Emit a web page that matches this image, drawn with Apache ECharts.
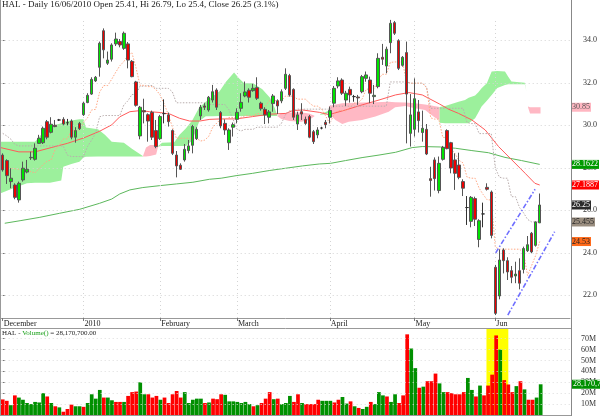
<!DOCTYPE html>
<html><head><meta charset="utf-8">
<script src="https://cdn.jsdelivr.net/npm/echarts@6/dist/echarts.min.js"></script>
<style>html,body{margin:0;padding:0;background:#fff}#c{width:600px;height:416px}</style>
</head><body><div id="c"></div>
<script>
// ---------- data ----------
const tradingDays = {
  '2009-12': [3,4,7,8,9,10,11,14,15,16,17,18,21,22,23,24,28,29,30,31],
  '2010-01': [4,5,6,7,8,11,12,13,14,15,19,20,21,22,25,26,27,28,29],
  '2010-02': [1,2,3,4,5,8,9,10,11,12,16,17,18,19,22,23,24,25,26],
  '2010-03': [1,2,3,4,5,8,9,10,11,12,15,16,17,18,19,22,23,24,25,26,29,30,31],
  '2010-04': [1,5,6,7,8,9,12,13,14,15,16,19,20,21,22,23,26,27,28,29,30],
  '2010-05': [3,4,5,6,7,10,11,12,13,14,17,18,19,20,21,24,25,26,27,28],
  '2010-06': [1,2,3,4,7,8,9,10,11,14,15,16]
};
const monthLabels = {'2009-12':'December','2010-01':'2010','2010-02':'February','2010-03':'March','2010-04':'April','2010-05':'May','2010-06':'Jun'};

const opens = [28.60,28.34,27.35,27.19,26.49,27.43,27.80,28.47,28.40,29.15,29.18,30.17,29.67,30.00,30.25,30.28,30.12,30.20,29.44,30.09,
30.50,31.07,31.47,32.09,32.73,34.45,32.92,33.11,33.83,33.94,33.62,33.83,33.01,32.04,29.50,30.69,30.50,30.61,29.75,29.37,
30.55,30.49,29.75,28.60,28.12,28.37,28.81,29.06,29.37,30.44,30.91,30.72,31.19,31.66,30.60,30.09,29.18,29.91,30.28,30.80,
31.38,31.65,31.63,31.77,31.04,30.75,30.38,31.02,31.15,31.15,31.74,32.34,31.69,30.06,30.64,30.28,30.41,29.70,29.55,29.87,
30.14,30.38,31.04,31.85,32.13,31.19,31.69,31.35,31.33,31.58,32.21,32.13,31.35,31.82,33.20,32.79,33.89,34.83,33.98,32.82,
33.42,29.62,29.81,30.63,29.66,29.81,27.49,28.37,26.93,28.40,29.75,29.18,28.37,28.13,27.35,26.13,25.48,26.55,24.63,25.83,
27.08,26.86,23.32,21.97,24.13,23.63,23.16,22.91,23.16,23.22,24.10,24.92,24.35,25.41];
const highs = [28.68,28.40,27.98,27.27,27.35,28.29,28.37,28.76,29.15,29.55,29.94,30.25,30.38,30.25,30.30,30.38,30.30,30.28,29.91,30.16,
31.10,31.51,32.26,32.32,33.94,34.56,33.47,33.86,34.36,34.06,34.41,33.92,33.07,32.09,30.91,31.25,30.56,30.69,30.25,30.49,
31.22,30.60,29.81,28.79,28.21,29.12,29.31,30.02,29.91,30.96,31.04,31.38,31.90,31.74,30.67,30.28,29.86,30.13,30.80,31.51,
32.06,31.74,31.95,32.26,31.11,30.85,30.72,31.47,31.22,31.69,32.68,32.42,31.74,30.64,31.04,30.41,30.49,29.78,29.91,29.93,
30.25,30.88,31.85,32.26,32.21,31.62,31.82,31.43,31.43,32.37,32.53,32.29,31.90,33.39,33.83,33.70,34.96,34.91,34.05,33.26,
33.94,31.47,32.21,31.19,30.69,30.06,28.05,28.49,28.53,29.03,29.81,29.22,28.68,28.71,27.46,26.67,26.67,26.64,25.58,26.36,
27.27,26.93,23.43,24.16,24.21,23.79,23.38,23.58,23.74,24.29,24.79,24.98,25.48,26.79];
const lows = [27.82,27.24,27.04,26.52,26.36,27.35,27.74,28.37,28.34,29.12,29.12,29.34,29.62,29.91,30.20,30.00,30.00,29.34,29.18,29.78,
30.44,31.04,31.43,32.04,32.29,33.15,32.84,33.00,33.73,33.67,33.55,32.68,32.26,30.88,29.34,30.09,29.23,29.31,28.92,29.31,
30.09,29.94,28.60,27.55,27.90,28.29,28.68,28.68,29.31,30.25,30.72,30.64,31.07,30.72,29.86,29.55,28.84,29.47,30.09,30.64,
31.32,31.07,31.58,31.19,30.69,30.06,30.09,30.64,30.53,31.04,31.66,31.35,30.25,29.78,30.25,30.02,29.39,29.12,29.39,29.81,
29.86,30.09,30.85,31.74,31.43,30.91,31.07,31.11,30.96,31.51,32.05,31.04,31.00,31.74,32.84,32.45,33.39,34.25,32.60,32.76,
29.15,29.00,29.47,29.66,29.23,28.60,26.64,26.93,26.80,28.34,28.87,27.74,26.96,27.46,26.67,25.31,25.20,25.26,24.26,25.20,
26.93,24.68,21.07,21.81,23.03,22.72,22.57,22.57,22.28,23.03,24.04,23.98,24.29,25.40];
const closes = [27.90,27.63,27.51,26.61,27.27,27.98,27.93,28.49,28.92,29.39,29.86,29.44,30.05,29.94,30.25,30.06,30.12,29.44,29.75,29.84,
31.04,31.41,32.16,32.26,33.86,33.55,33.07,33.78,34.06,33.78,34.33,33.07,32.29,30.94,30.85,30.63,30.20,29.44,29.00,30.41,
30.55,30.17,28.68,28.09,27.93,28.87,29.03,29.94,29.81,30.85,30.85,31.32,31.58,30.85,29.97,29.78,29.78,30.03,30.61,31.08,
31.57,31.32,31.74,31.27,30.78,30.49,30.63,31.38,30.91,31.58,32.40,31.43,30.38,30.49,30.53,30.09,29.44,29.23,29.78,29.87,
30.03,30.70,31.74,32.09,31.51,31.51,31.43,31.35,31.29,32.29,32.37,31.51,31.41,33.15,33.11,33.58,34.80,34.33,32.68,33.20,
31.47,30.49,31.25,30.22,29.86,28.65,27.40,27.49,28.21,28.96,28.90,27.99,27.74,27.55,27.04,26.13,26.61,25.58,25.51,25.83,
26.99,24.82,21.15,23.66,23.63,23.10,22.85,23.00,22.57,24.20,24.38,24.04,25.45,26.25];

// volume in millions, and whether each bar is drawn green (1) or red (0)
const volumeMillions = [14.3,13,9,18,16,14,11,10,12,11.5,20,17,11,8,7,3,5.5,9.5,8,8,
7.5,11,19,15,23,16,16,13.5,12,12,12,17.5,21,21.5,30,19,19,16,17.5,14,
16,11,19,22,16,21,11,14,15,15,11,11.5,15,14.5,19,18.5,12.5,12.5,12,11,
12,10,8,9,11,15,21,14.5,15,10,11,17.5,12,19,11,10,10,10,14,13,
13,13,11.5,14,16.5,10.5,12.5,8,6.5,5.5,7.5,12,10,21,18,17,12,19,11,18,
74,61,43,25,26,31,31,38,29,21,21,20,19,19,21,34,23,17,27,18,
27,37,73,60,32,28,21,26.5,31,23.5,14,14,16,28.17];
const volumeUp = [0,0,1,0,1,1,1,1,1,1, 1,0,1,0,1,0,0,0,1,1, 0,1,1,1,1,0,1,1,0,0, 1,0,0,0,1,1,0,0,0,1,
0,0,0,0,0,1,1,1,1,1, 0,1,0,0,0,1,1,1,1,1, 1,1,0,1,0,0,0,1,0,1, 1,1,0,0,1,0,0,0,0,1,
1,1,0,0,1,1,0,1,0,1, 1,0,1,1,1,0,1,1,0,0, 0,1,1,0,1,0,0,0,1,1, 0,0,0,0,0,1,1,0,1,0,
0,0,0,1,0,0,0,1,0,1, 0,0,1,1];

// conversion line (orange dotted) and base line (grey dotted), one value per bar
const tenkan = [28.0,28.0,27.98,27.95,27.93,27.9,27.86,27.82,27.76,27.96,28.15,28.31,28.37,28.87,29.06,29.36,29.36,29.75,29.75,29.78,
30.14,30.35,30.72,30.75,31.56,31.87,31.87,32.17,32.50,32.80,33.0,33.30,33.41,32.72,31.88,31.88,31.82,31.82,31.67,31.42,
31.0,30.51,29.93,29.40,29.39,29.39,29.39,29.39,29.39,29.26,29.30,29.47,29.90,30.10,30.29,30.29,30.37,30.37,30.37,30.37,
30.45,30.45,30.45,30.55,30.55,30.87,31.16,31.16,31.16,31.16,31.37,31.37,31.37,31.23,31.23,31.23,31.04,30.90,30.90,30.77,
30.43,30.08,30.49,30.69,30.69,30.69,30.83,31.04,31.06,31.23,31.69,31.72,31.72,32.15,32.40,32.40,32.96,32.98,32.98,32.98,
32.06,31.98,31.98,31.98,31.98,31.76,30.35,30.29,30.29,29.43,29.43,28.92,28.67,28.35,28.23,27.56,27.51,27.51,27.04,26.74,
26.49,26.49,24.27,24.17,24.17,24.17,24.17,24.17,24.17,24.0,22.93,23.40,23.88,24.53];
const kijun = [29.62,29.5,29.35,29.1,29.03,29.03,29.03,29.03,29.03,29.03,29.03,29.03,29.03,29.03,29.03,29.03,28.6,28.53,28.53,28.53,
28.53,29.0,29.3,29.62,30.4,30.46,30.46,30.46,30.46,30.46,30.96,31.15,31.45,31.45,31.84,31.84,31.87,31.87,31.74,31.74,
31.74,31.74,31.58,31.06,31.06,31.06,31.06,31.06,31.06,31.06,31.06,30.98,30.98,30.98,30.98,30.98,30.74,30.31,29.82,29.73,
29.81,29.81,29.81,29.91,29.91,29.91,29.91,29.91,29.91,30.08,30.49,30.68,30.68,30.76,30.76,30.76,30.76,30.76,30.76,30.76,
30.76,30.76,30.90,30.90,30.90,30.90,30.90,30.90,30.90,30.90,30.90,30.90,30.90,30.90,30.90,30.90,32.04,32.04,32.04,32.04,
32.04,31.98,31.98,31.98,31.98,31.78,30.80,30.80,30.80,30.80,30.80,30.80,30.80,30.80,30.80,30.14,30.08,30.08,29.61,29.61,
29.61,29.61,27.99,27.56,27.51,27.51,26.64,26.64,26.13,25.88,25.57,25.455,25.455,25.455];

// moving averages: [bar position, value] read at points along each line
const redAverage = [[-0.5,28.95],[4,28.75],[8,28.75],[12,28.95],[16,29.15],[20,29.4],[24,29.72],[27,30.02],[29,30.4],[31.5,30.64],
[34,30.69],[36.4,30.64],[39,30.6],[41.4,30.53],[43.8,30.33],[46.3,30.2],[48.8,30.2],[51.3,30.28],[54,30.3],[57.8,30.3],
[61.9,30.41],[66,30.52],[70.1,30.56],[71.8,30.69],[74.3,30.72],[78.4,30.61],[80.8,30.5],[84.9,30.72],[89,30.96],[93.2,31.19],
[97.3,31.43],[100.6,31.54],[103.9,31.43],[108.2,31.0],[110.5,30.75],[112.9,30.56],[116.2,30.25],[119.5,29.78],[122.8,29.0],
[126.1,28.37],[129.4,27.74],[131.8,27.27],[133,27.19]];
const greenAverage = [[0.5,25.39],[4.3,25.51],[9.2,25.67],[14.1,25.86],[19.1,26.05],[24,26.33],[27,26.53],[29,26.77],[31.5,26.96],
[34.7,27.07],[38.9,27.16],[43,27.24],[47.1,27.32],[51.2,27.46],[54.1,27.51],[57.8,27.63],[61.9,27.74],[66,27.87],[70.1,27.98],
[74.3,28.09],[78.4,28.18],[81.2,28.21],[84.9,28.34],[89,28.48],[93.2,28.60],[97.3,28.73],[101.4,28.95],[103.9,29.0],[108.4,28.98],
[112.1,28.92],[116.2,28.81],[120.3,28.71],[124.4,28.49],[128.5,28.34],[133,28.16]];

// cloud pieces: [bar position, upper edge, lower edge]
const cloudGreen1 = [[-0.5,29.23,26.8],[2.6,29.23,27.04],[6,29.23,27.27],[8,29.23,27.3],[9.5,29.55,27.3],[11.7,29.94,27.3],[14.5,30.1,27.4],
[15,30.17,28.05],[17,30.22,28.18],[19,30.28,28.29],[20,30.28,28.49],[20.6,29.9,28.52],[23.6,29.81,28.53],[25.3,29.55,28.53],
[27,29.23,28.53],[30,29.18,28.53],[32,28.9,28.53],[34.7,28.55,28.53]];
const cloudPink1 = [[34.7,28.53,28.53],[35.5,28.95,28.53],[36.5,29.07,28.56],[38,29.07,28.62],[38.5,29.03,29.0]];
const cloudGreen2 = [[38.5,29.03,29.0],[39.5,29.18,29.03],[42.5,29.2,29.03],[43.8,29.55,29.03],[45.4,29.86,29.03],[47,30.25,29.3],
[48.7,30.85,30.2],[50.3,31.11,30.42],[52,31.35,30.43],[53.7,31.6,30.44],[55.3,32.05,30.44],[57.3,32.48,30.44],[58.5,32.21,30.44],
[59.8,31.98,30.44],[62,31.98,30.44],[64.3,31.7,30.44],[66.2,31.3,30.44],[67.4,30.8,30.44],[68,30.45,30.44]];
const cloudPink2 = [[68,30.45,30.44],[69,30.56,30.3],[71,30.6,30.2],[74,30.6,30.17],[75.9,30.56,30.25],[77.2,30.45,30.43]];
const cloudGreen3 = [[78.6,30.52,30.5],[80,30.62,30.52],[80.8,30.7,30.6]];
const cloudPink3 = [[80.8,30.91,30.56],[82.4,30.98,30.25],[84.1,31.04,30.06],[85.7,31.05,30.17],[89,31.07,30.25],[92.3,31.09,30.41],
[95.6,31.11,30.64],[97.2,31.09,30.85],[99.7,31.07,30.91],[102.1,31.04,30.8],[104.6,30.98,30.72],[106.2,30.93,30.49],[107.1,30.9,30.35],[108.2,30.86,30.25]];
const cloudGreen4 = [[108.2,30.86,30.12],[109.6,30.91,30.1],[112.9,31.11,30.1],[114.5,31.19,30.1],[115.4,31.3,30.1],[117,31.4,30.33],
[117.8,31.55,30.6],[118.6,31.74,30.88],[119.9,31.98,31.15],[121.1,32.53,31.43],[122.5,32.55,31.75],[124.4,32.53,31.9],[125.2,32.29,31.93],
[126,32.06,31.93],[129.3,32.0,31.93],[129.7,31.6,31.6],[130.1,30.9,30.9]];
const cloudPink4 = [[130.1,30.88,30.85],[130.6,30.85,30.56],[133.2,30.85,30.56]];

// trend channel (blue dash-dot)
const channelUpper = [[122.1,24.0],[131.85,26.99]];
const channelLower = [[125.1,21.07],[136.7,24.99]];

// last values shown in tags at the right edge
const priceTags = [
  {value:30.85, text:'30.85', bg:'#ffb6c1', fg:'#555'},
  {value:28.1622, text:'28.1622', bg:'#009a00', fg:'#fff'},
  {value:27.1887, text:'27.1887', bg:'#ff0000', fg:'#fff'},
  {value:26.25, text:'26.25', bg:'#2b2b2b', fg:'#fff'},
  {value:25.455, text:'25.455', bg:'#9a8e80', fg:'#222'},
  {value:24.53, text:'24.53', bg:'#ff6a1a', fg:'#222'}
];
const volumeTag = {value:28.1707, text:'28,170,700'};
const priceTicks = [22,24,26,28,30,32,34];
const volumeTicks = [10,20,30,40,50,60,70];
const highlightRange = [119.6, 125.0];
const titleText = 'HAL - Daily 16/06/2010 Open 25.41, Hi 26.79, Lo 25.4, Close 26.25 (3.1%)';

// ---------- build chart ----------
const FONT = "'Liberation Serif','Times New Roman',serif";
const PAD = 7;
const categories = [];
const labelAt = {};
Object.keys(tradingDays).forEach(m => {
  tradingDays[m].forEach((d, k) => {
    if (k === 0) labelAt[categories.length] = monthLabels[m];
    categories.push(m + '-' + String(d).padStart(2, '0'));
  });
});
for (let k = 0; k < PAD; k++) categories.push('pad' + k);
const N = categories.length;
const monthIdx = Object.keys(labelAt).map(Number);

const candleData = opens.map((o, i) => [o, closes[i], lows[i], highs[i]]);
const volData = volumeMillions.map((v, i) => ({value: v, itemStyle: {color: volumeUp[i] ? '#009000' : '#ff0000'}}));

const cloudPieces = [
  [cloudGreen1,'#9cf09c'],[cloudPink1,'#ffb8c4'],[cloudGreen2,'#9cf09c'],[cloudPink2,'#ffb8c4'],
  [cloudGreen3,'#9cf09c'],[cloudPink3,'#ffb8c4'],[cloudGreen4,'#9cf09c'],[cloudPink4,'#ffb8c4']
];

const hiddenLine = {color: 'rgba(0,0,0,0)', width: 0};
const GL = 0.7, GW = 570.3;
const option = {
  animation: false,
  backgroundColor: '#fff',
  title: [
    {left: 2, top: 0, padding: 0, text: titleText,
     textStyle: {fontSize: 9, fontWeight: 'normal', fontFamily: FONT, color: '#222'}},
    {left: 2, top: 330, padding: 0, text: 'HAL - {g|Volume()} = 28,170,700.00',
     textStyle: {fontSize: 7, fontWeight: 'normal', fontFamily: FONT, color: '#222',
       rich: {g: {fontSize: 7, fontFamily: FONT, color: '#1aa01a'}}}}
  ],
  grid: [
    {left: GL, top: 18, width: GW, height: 300},
    {left: GL, top: 329, width: GW, height: 86}
  ],
  xAxis: [
    {type: 'category', gridIndex: 0, data: categories, boundaryGap: true,
     axisLine: {show: true, lineStyle: {color: '#999'}},
     axisTick: {show: true, alignWithLabel: true, length: 3, lineStyle: {color: '#777'},
       interval: (i) => labelAt[i] !== undefined},
     axisLabel: {show: true, interval: 0, align: 'left', margin: 2, padding: [0,0,0,1],
       fontSize: 8, fontFamily: FONT, color: '#222',
       formatter: (v, i) => labelAt[i] || ''},
     splitLine: {show: false}},
    {type: 'value', gridIndex: 0, min: -0.5, max: N - 0.5, show: false},
    {type: 'category', gridIndex: 1, data: categories, boundaryGap: true, show: false},
    {type: 'value', gridIndex: 1, min: -0.5, max: N - 0.5, show: false}
  ],
  yAxis: [
    {type: 'value', gridIndex: 0, position: 'right', min: 20.932, max: 35.049, scale: true,
     axisLine: {show: false}, splitLine: {show: false},
     axisTick: {show: true, length: 2, customValues: priceTicks, lineStyle: {color: '#777'}},
     axisLabel: {customValues: priceTicks, margin: 13, fontSize: 8, fontFamily: FONT, color: '#333',
       formatter: v => v.toFixed(1)}},
    {type: 'value', gridIndex: 1, position: 'right', min: 0, max: 78.9,
     axisLine: {show: false}, splitLine: {show: false},
     axisTick: {show: true, length: 2, customValues: volumeTicks, lineStyle: {color: '#777'}},
     axisLabel: {customValues: volumeTicks, margin: 10, fontSize: 8, fontFamily: FONT, color: '#333',
       formatter: v => v + 'M'}}
  ],
  graphic: [
    {type: 'line', shape: {x1: 0.5, y1: 0, x2: 0.5, y2: 416}, style: {stroke: '#999', lineWidth: 1}, z: 50},
    {type: 'line', shape: {x1: 571.5, y1: 0, x2: 571.5, y2: 416}, style: {stroke: '#888', lineWidth: 1}, z: 50},
    {type: 'line', shape: {x1: 0, y1: 328.5, x2: 571, y2: 328.5}, style: {stroke: '#999', lineWidth: 1}, z: 50},
    {type: 'line', shape: {x1: 0, y1: 415.5, x2: 571, y2: 415.5}, style: {stroke: '#999', lineWidth: 1}, z: 50}
  ],
  series: [
    { // gridlines
      type: 'line', xAxisIndex: 1, yAxisIndex: 0, data: [], z: 0, silent: true,
      markLine: {silent: true, symbol: ['none','none'], label: {show: false}, animation: false,
        lineStyle: {color: '#d4d4d4', type: [1,3], width: 1},
        data: priceTicks.map(v => ({yAxis: v})).concat(monthIdx.filter(i => i > 0).map(i => ({xAxis: i})))}
    },
    { // volume gridlines
      type: 'line', xAxisIndex: 3, yAxisIndex: 1, data: [], z: 0, silent: true,
      markLine: {silent: true, symbol: ['none','none'], label: {show: false}, animation: false,
        lineStyle: {color: '#dcdcdc', type: [1,3], width: 1},
        data: volumeTicks.map(v => ({yAxis: v}))}
    },
    { // cloud
      type: 'custom', xAxisIndex: 1, yAxisIndex: 0, z: 1, silent: true,
      data: cloudPieces.map((p, k) => [k]),
      renderItem: (params, api) => {
        const piece = cloudPieces[params.dataIndex];
        const pts = piece[0];
        const top = pts.map(p => api.coord([p[0], p[1]]));
        const bot = pts.slice().reverse().map(p => api.coord([p[0], p[2]]));
        return {type: 'polygon', shape: {points: top.concat(bot)}, style: {fill: piece[1], stroke: null}};
      }
    },
    {type: 'line', name: 'MA green', xAxisIndex: 1, yAxisIndex: 0, data: greenAverage, showSymbol: false, z: 2,
     lineStyle: {color: '#5cb85c', width: 1}},
    {type: 'line', name: 'MA red', xAxisIndex: 1, yAxisIndex: 0, data: redAverage, showSymbol: false, z: 2,
     lineStyle: {color: '#ff5a5a', width: 1}},
    {type: 'line', name: 'kijun', xAxisIndex: 1, yAxisIndex: 0, data: kijun.map((v, i) => [i, v]), showSymbol: false, z: 2,
     lineStyle: {color: '#b9adad', width: 1, type: [1.5,1.5]}},
    {type: 'line', name: 'tenkan', xAxisIndex: 1, yAxisIndex: 0, data: tenkan.map((v, i) => [i, v]), showSymbol: false, z: 2,
     lineStyle: {color: '#ffa885', width: 1, type: [1.5,1.5]}},
    {type: 'candlestick', xAxisIndex: 0, yAxisIndex: 0, data: candleData, barWidth: 3, z: 5,
     itemStyle: {color: '#00e400', color0: '#ee0000', borderColor: '#555', borderColor0: '#555', borderColorDoji: '#333', borderWidth: 1}},
    {type: 'line', name: 'channel upper', xAxisIndex: 1, yAxisIndex: 0, data: channelUpper, showSymbol: false, z: 6,
     lineStyle: {color: '#6f6fff', width: 1.6, type: [5,2,1.5,2]}},
    {type: 'line', name: 'channel lower', xAxisIndex: 1, yAxisIndex: 0, data: channelLower, showSymbol: false, z: 6,
     lineStyle: {color: '#6f6fff', width: 1.6, type: [5,2,1.5,2]}},
    { // price tags
      type: 'line', xAxisIndex: 1, yAxisIndex: 0, data: [], z: 20, silent: true,
      markLine: {silent: true, symbol: ['none','none'], animation: false,
        lineStyle: hiddenLine,
        data: priceTags.map(t => ({yAxis: t.value, lineStyle: hiddenLine,
          label: {show: true, position: 'end', distance: 1, formatter: t.text, fontSize: 8, fontFamily: FONT,
            color: t.fg, backgroundColor: t.bg, padding: [1,1,0,1], opacity: 1}}))}
    },
    { // volume highlight
      type: 'custom', xAxisIndex: 3, yAxisIndex: 1, z: 1, silent: true, data: [[0]],
      renderItem: (params, api) => {
        const a = api.coord([highlightRange[0], 78.9]);
        const b = api.coord([highlightRange[1], 0]);
        return {type: 'rect', shape: {x: a[0], y: a[1], width: b[0] - a[0], height: b[1] - a[1] + 2}, style: {fill: '#ffff00'}};
      }
    },
    {type: 'bar', xAxisIndex: 2, yAxisIndex: 1, data: volData, barCategoryGap: '8%', z: 3,
     markLine: {silent: true, symbol: ['none','none'], animation: false, lineStyle: hiddenLine,
       data: [{yAxis: volumeTag.value, lineStyle: hiddenLine,
         label: {show: true, position: 'end', distance: 1, formatter: volumeTag.text,
         fontSize: 8, fontFamily: FONT, color: '#fff', backgroundColor: '#009000', padding: [1,1,0,1], opacity: 1}}]}}
  ]
};
const chart = echarts.init(document.getElementById('c'));
chart.setOption(option);
</script>
</body></html>
